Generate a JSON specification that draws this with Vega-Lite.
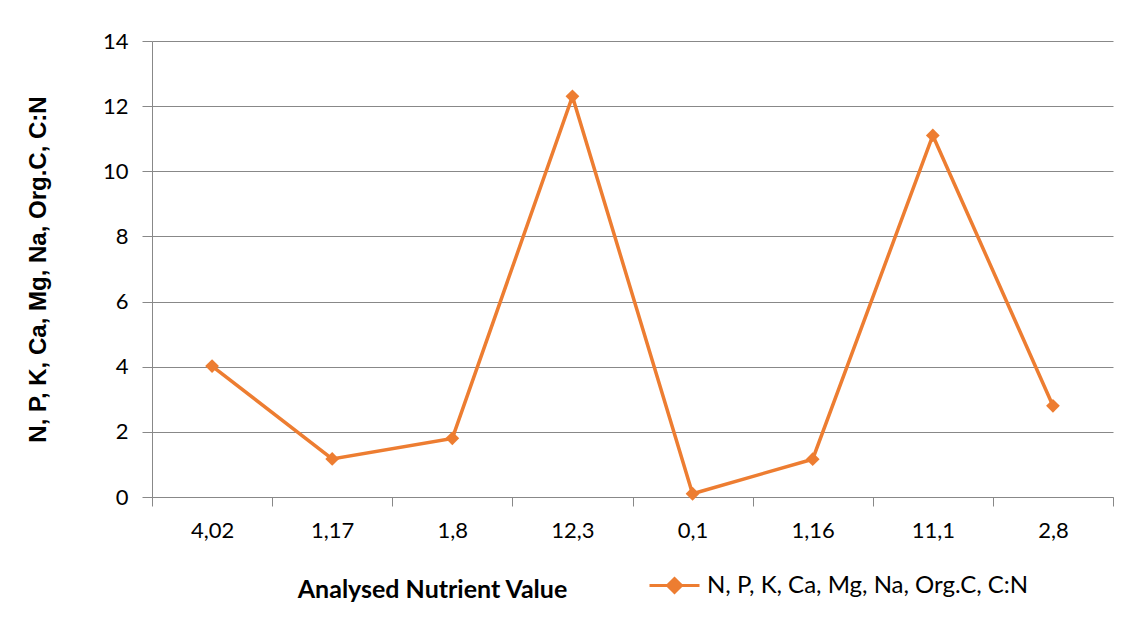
{
  "$schema": "https://vega.github.io/schema/vega-lite/v6.json",
  "width": 961,
  "height": 456,
  "autosize": {"type": "none"},
  "padding": {"left": 152, "top": 41, "right": 17, "bottom": 129},
  "background": "white",
  "config": {
    "view": {"stroke": null},
    "font": "Lato"
  },
  "data": {
    "values": [
      {"label": "4,02", "value": 4.02, "series": "N, P, K, Ca, Mg, Na, Org.C, C:N"},
      {"label": "1,17", "value": 1.17, "series": "N, P, K, Ca, Mg, Na, Org.C, C:N"},
      {"label": "1,8", "value": 1.8, "series": "N, P, K, Ca, Mg, Na, Org.C, C:N"},
      {"label": "12,3", "value": 12.3, "series": "N, P, K, Ca, Mg, Na, Org.C, C:N"},
      {"label": "0,1", "value": 0.1, "series": "N, P, K, Ca, Mg, Na, Org.C, C:N"},
      {"label": "1,16", "value": 1.16, "series": "N, P, K, Ca, Mg, Na, Org.C, C:N"},
      {"label": "11,1", "value": 11.1, "series": "N, P, K, Ca, Mg, Na, Org.C, C:N"},
      {"label": "2,8", "value": 2.8, "series": "N, P, K, Ca, Mg, Na, Org.C, C:N"}
    ]
  },
  "encoding": {
    "x": {
      "field": "label",
      "type": "nominal",
      "sort": null,
      "scale": {"type": "band", "paddingInner": 0, "paddingOuter": 0},
      "axis": {
        "title": "Analysed Nutrient Value",
        "titleFont": "Lato",
        "titleFontSize": 25,
        "titleFontWeight": "bold",
        "titleColor": "black",
        "titleX": 280,
        "titleY": 92,
        "titleAlign": "center",
        "titleBaseline": "middle",
        "labelAngle": 0,
        "labelFont": "Lato",
        "labelFontSize": 22,
        "labelColor": "black",
        "labelPadding": 14,
        "tickBand": "extent",
        "ticks": true,
        "tickSize": 9,
        "tickColor": "#888888",
        "domainColor": "#888888",
        "domainWidth": 1,
        "grid": false
      }
    },
    "y": {
      "field": "value",
      "type": "quantitative",
      "scale": {"domain": [0, 14], "nice": false},
      "axis": {
        "values": [0, 2, 4, 6, 8, 10, 12, 14],
        "title": "N, P, K, Ca, Mg, Na, Org.C, C:N",
        "titleFont": "Liberation Sans",
        "titleFontSize": 24,
        "titleFontWeight": "bold",
        "titleColor": "black",
        "titleAngle": -90,
        "titleX": -114,
        "titleY": 228,
        "titleAlign": "center",
        "titleBaseline": "middle",
        "labelFont": "Lato",
        "labelFontSize": 22,
        "labelColor": "black",
        "labelPadding": 14,
        "tickSize": 10,
        "tickColor": "#888888",
        "domainColor": "#888888",
        "grid": true,
        "gridColor": "#888888",
        "gridWidth": 1
      }
    },
    "color": {
      "field": "series",
      "type": "nominal",
      "scale": {"range": ["#ED7D31"]},
      "legend": {
        "title": null,
        "orient": "none",
        "legendX": 496,
        "legendY": 518,
        "padding": 0,
        "symbolType": "M-1,0H1M0,-0.28L0.28,0L0,0.28L-0.28,0Z",
        "symbolSize": 2500,
        "symbolStrokeWidth": 3,
        "symbolFillColor": "#ED7D31",
        "symbolStrokeColor": "#ED7D31",
        "labelFont": "Lato",
        "labelFontSize": 24,
        "labelColor": "black",
        "labelOffset": 6,
        "labelLimit": 500
      }
    }
  },
  "layer": [
    {"mark": {"type": "line", "strokeWidth": 3.5, "color": "#ED7D31"}},
    {"mark": {"type": "point", "shape": "diamond", "filled": true, "size": 190, "opacity": 1, "color": "#ED7D31"}}
  ]
}
